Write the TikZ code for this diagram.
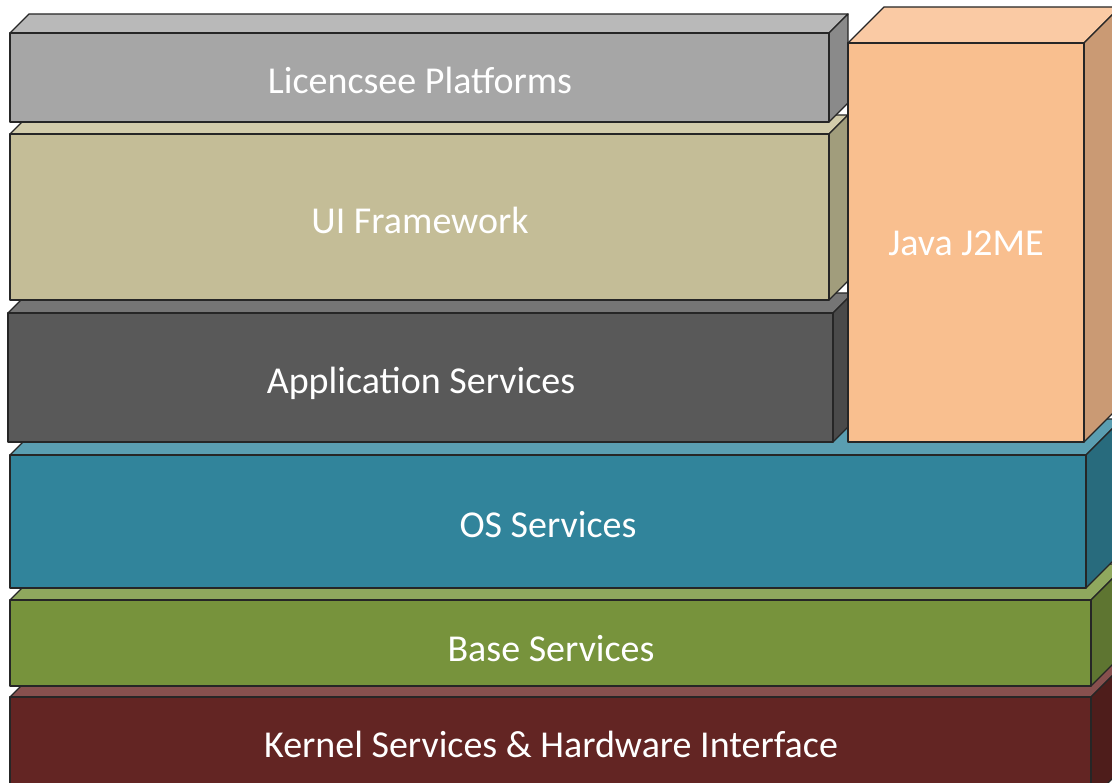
\documentclass[tikz,border=0pt]{standalone}
\usepackage{fontspec}
\setmainfont{Carlito}
\definecolor{licF}{HTML}{A6A6A6}\definecolor{licT}{HTML}{B9B9B9}\definecolor{licS}{HTML}{8A8A8A}
\definecolor{uiF}{HTML}{C4BD97}\definecolor{uiT}{HTML}{D2CCAB}\definecolor{uiS}{HTML}{A19D7C}
\definecolor{appF}{HTML}{595959}\definecolor{appT}{HTML}{757575}\definecolor{appS}{HTML}{4A4A4A}
\definecolor{javF}{HTML}{F9BF8F}\definecolor{javT}{HTML}{FACAA4}\definecolor{javS}{HTML}{CA9A74}
\definecolor{osF}{HTML}{31849B}\definecolor{osT}{HTML}{5A9EB1}\definecolor{osS}{HTML}{286B7D}
\definecolor{baseF}{HTML}{77933C}\definecolor{baseT}{HTML}{8FA85E}\definecolor{baseS}{HTML}{5E7531}
\definecolor{kerF}{HTML}{632523}\definecolor{kerT}{HTML}{87504E}\definecolor{kerS}{HTML}{4E1D1B}
\newcommand\layerbox[8]{%
  \filldraw[boxline,fill=#7] (#1,#2) -- ({#1+#5},{#2-#5}) -- ({#3+#5},{#2-#5}) -- (#3,#2) -- cycle;
  \filldraw[boxline,fill=#8] (#3,#2) -- ({#3+#5},{#2-#5}) -- ({#3+#5},{#4-#5}) -- (#3,#4) -- cycle;
  \filldraw[boxline,fill=#6] (#1,#2) rectangle (#3,#4);
}
\begin{document}
\begin{tikzpicture}[x=1pt,y=-1pt,
  boxline/.style={draw=black!85,line width=1.3pt,line join=round},
  lbl/.style={text=white,font=\fontsize{38}{42}\selectfont,anchor=base,inner sep=0pt}]
\useasboundingbox (0,0) rectangle (1112,783);
\clip (0,0) rectangle (1112,783);
\layerbox{10}{697}{1091}{800}{36}{kerF}{kerT}{kerS}
\layerbox{10}{600}{1091}{686}{36}{baseF}{baseT}{baseS}
\layerbox{10}{455}{1086}{588}{36}{osF}{osT}{osS}
\layerbox{8}{313}{833}{442}{20}{appF}{appT}{appS}
\layerbox{10}{134}{829}{300}{19}{uiF}{uiT}{uiS}
\layerbox{10}{33}{829}{122}{19}{licF}{licT}{licS}
\layerbox{848}{43}{1084}{442}{36}{javF}{javT}{javS}
\node[lbl] (lic) at (420,94) {Licencsee Platforms};
\node[lbl] (ui) at (420,234) {UI Framework};
\node[lbl] (app) at (421,394) {Application Services};
\node[lbl] (java) at (966,256) {Java J2ME};
\node[lbl] (os) at (548,538) {OS Services};
\node[lbl] (base) at (551,661) {Base Services};
\node[lbl] (kernel) at (551,757) {Kernel Services \& Hardware Interface};
\end{tikzpicture}
\end{document}
